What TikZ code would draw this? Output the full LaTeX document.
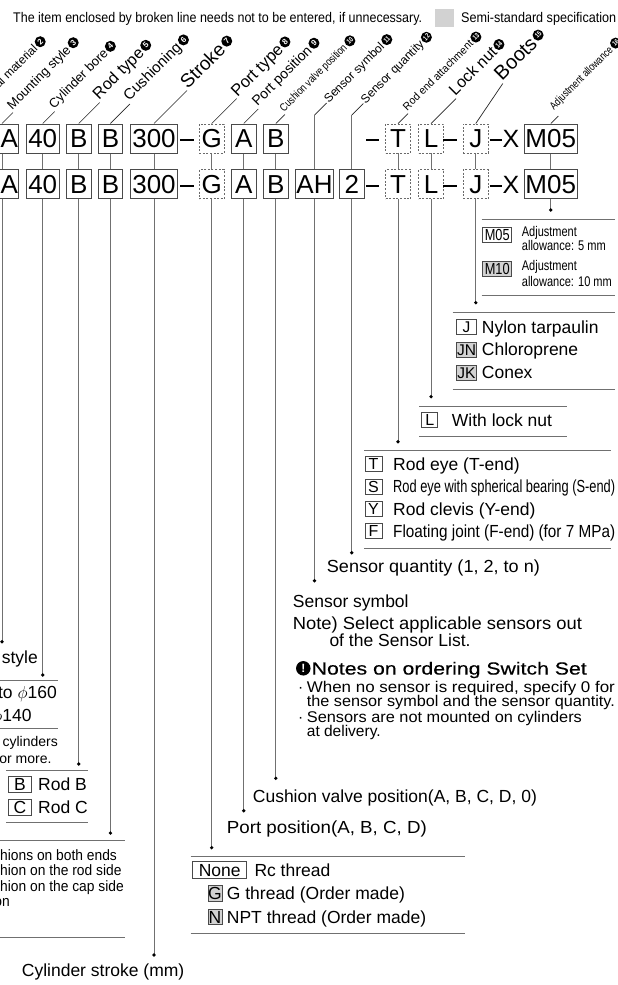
\documentclass[tikz,border=0pt]{standalone}
\usepackage{fontspec}
\setmainfont{Liberation Sans}
\newfontfamily\cnd[FakeStretch=0.8]{Liberation Sans}
\newfontfamily\cndc[FakeStretch=0.92]{Liberation Sans}
\newfontfamily\semib[FakeBold=0.3]{Liberation Sans}
\usepackage{graphicx}
\newcommand\fsz[1]{\fontsize{#1}{#1}\selectfont}
\newcommand\fitw[2]{\resizebox{#1pt}{\height}{#2}}
\definecolor{boxc}{HTML}{4A4A4A}
\definecolor{linec}{HTML}{707070}
\definecolor{dashc}{HTML}{6A6A6A}
\definecolor{semig}{HTML}{D2D2D2}
\tikzset{
  bigbox/.style={draw=boxc, line width=1pt, minimum height=29pt, inner sep=0pt, font=\fsz{26}, text height=18.6pt, text depth=0pt},
  dbox/.style={bigbox, draw=dashc, line width=0.9pt, dash pattern=on 2pt off 1.6pt},
  smbox/.style={draw=boxc, line width=0.9pt, minimum height=15pt, inner sep=0pt, font=\fsz{16}, text height=11.5pt, text depth=0pt},
  conn/.style={draw=linec, line width=1pt},
  lead/.style={draw=black!85, line width=0.7pt},
  rule/.style={draw=linec, line width=1pt},
  dsh/.style={draw=black, line width=1.8pt},
  dotn/.style={circle, fill=black, inner sep=0pt, minimum size=3.6pt},
  lbl/.style={rotate=45, anchor=base west, inner sep=0pt, inner xsep=1pt, text depth=0pt},
  num/.style={circle, fill=black, text=white, inner sep=0pt, minimum size=11pt, rotate=45, anchor=west, font=\bfseries\fsz{8}},
  numw/.style={num, font=\cnd\bfseries\fsz{7}},
  txt/.style={anchor=west, inner sep=0pt, font=\fsz{17.5}, text height=12.5pt, text depth=0pt},
  ntxt/.style={anchor=west, inner sep=0pt, font=\fsz{15.5}, text height=11.1pt, text depth=0pt},
  ctxt/.style={anchor=west, inner sep=0pt, font=\fsz{14}, text height=10pt, text depth=0pt},
  cush/.style={anchor=west, inner sep=0pt, font=\cndc\fsz{15}, text height=10.7pt, text depth=0pt},
  xch/.style={inner sep=0pt, font=\fsz{25}, text height=18pt, text depth=0pt},
}
\newcommand\twobox[5]{%
  \node[#4, minimum width=#3pt] (t#1) at (#2,138.5) {#5};
  \node[#4, minimum width=#3pt] (b#1) at (#2,184.25) {#5};
  \draw[conn] (t#1.south) -- (b#1.north);}
\begin{document}
\begin{tikzpicture}[x=1pt,y=-1pt]
\useasboundingbox (0,0) rectangle (618,985);
\fill[white] (0,0) rectangle (618,985);
\clip (0,0) rectangle (618,985);

% header
\node[anchor=west, inner sep=0pt, text height=10pt, text depth=0pt] (topnote) at (13,18) {\fitw{409}{\fsz{14}The item enclosed by broken line needs not to be entered, if unnecessary.}};
\node[fill=semig, minimum width=19pt, minimum height=18pt, inner sep=0pt] (semisq) at (444.5,18) {};
\node[anchor=west, inner sep=0pt, text height=10pt, text depth=0pt] (semitxt) at (461,18) {\fitw{155}{\fsz{14}Semi-standard specification}};

% code rows
\twobox{1}{2}{32}{bigbox}{LA}
\twobox{2}{42.75}{32.5}{bigbox}{40}
\twobox{3}{78.75}{25.5}{bigbox}{B}
\twobox{4}{110.45}{24.5}{bigbox}{B}
\twobox{5}{154}{47}{bigbox}{300}
\twobox{6}{211.7}{25}{dbox}{G}
\twobox{7}{243.75}{24.5}{bigbox}{A}
\twobox{8}{275.8}{25}{bigbox}{B}
\node[bigbox, minimum width=38pt] (b9) at (314.5,184.25) {AH};
\node[bigbox, minimum width=24.5pt] (b10) at (351.75,184.25) {2};
\twobox{11}{398}{25}{dbox}{T}
\twobox{12}{431}{25}{dbox}{L}
\twobox{13}{475.75}{25.5}{dbox}{J}
\twobox{14}{550.75}{52.5}{bigbox}{M05}

\foreach \yy in {140,185.75} {
  \draw[dsh] (180,\yy) -- (193.7,\yy);
  \draw[dsh] (366,\yy) -- (379,\yy);
  \draw[dsh] (443,\yy) -- (456.7,\yy);
  \draw[dsh] (489.5,\yy) -- (501.5,\yy);
}
\node[xch] (x1) at (511,138.5) {X};
\node[xch] (x2) at (511,184.25) {X};

% diagonal labels
\node[lbl, font=\fsz{12}, text height=8.6pt] (l0) at (-12,100) {Seal material};
\node[num] (n0) at (l0.east) {2};

\draw[lead] (t1.north) -- ++(11,-11) coordinate (e1);
\node[lbl, font=\fsz{13}, text height=9.3pt] (l1) at ([shift={(-1.5,-1.5)}]e1) {Mounting style};
\node[num] (n1) at (l1.east) {3};

\draw[lead] (t2.north) -- ++(12,-12) coordinate (e2);
\node[lbl, font=\fsz{13}, text height=9.3pt] (l2) at ([shift={(-1.5,-1.5)}]e2) {Cylinder bore};
\node[num] (n2) at (l2.east) {4};

\draw[lead] (t3.north) -- ++(21,-21) coordinate (e3);
\node[lbl, font=\fsz{16.2}, text height=11.6pt] (l3) at ([shift={(-1.5,-1.5)}]e3) {Rod type};
\node[num] (n3) at (l3.east) {5};

\draw[lead] (t4.north) -- ++(19.5,-19.5) coordinate (e4);
\node[lbl, font=\fsz{15}, text height=10.7pt] (l4) at ([shift={(-1.5,-1.5)}]e4) {Cushioning};
\node[num] (n4) at (l4.east) {6};

\draw[lead] (t5.north) -- ++(33,-33) coordinate (e5);
\node[lbl, font=\fsz{19}, text height=13.6pt] (l5) at (e5) {Stroke};
\node[num] (n5) at (l5.east) {7};

\draw[lead] (t6.north) -- ++(25,-25) coordinate (e6);
\node[lbl, font=\fsz{16.5}, text height=11.8pt] (l6) at (e6) {Port type};
\node[num] (n6) at (l6.east) {8};

\draw[lead] (t7.north) -- ++(14.5,-14.5) coordinate (e7);
\node[lbl, font=\fsz{14}, text height=10pt] (l7) at ([shift={(-1.5,-1.5)}]e7) {Port position};
\node[num] (n7) at (l7.east) {9};

\draw[lead] (t8.north) -- ++(9,-9) coordinate (e8);
\node[lbl, font=\fsz{11}, text height=7.9pt] (l8) at ([shift={(-1.5,-1.5)}]e8) {\fitw{90}{Cushion valve position}};
\node[numw] (n8) at (l8.east) {10};

\draw[conn] (b9.north) -- (b9.north |- 0,115) coordinate (v9);
\draw[lead] (v9) -- ++(12,-12) coordinate (e9);
\node[lbl, font=\fsz{12}, text height=8.6pt] (l9) at ([shift={(1.5,1.5)}]e9) {Sensor symbol};
\node[numw] (n9) at (l9.east) {11};

\draw[conn] (b10.north) -- (b10.north |- 0,115) coordinate (v10);
\draw[lead] (v10) -- ++(11.5,-11.5) coordinate (e10);
\node[lbl, font=\fsz{12}, text height=8.6pt] (l10) at ([shift={(1.5,1.5)}]e10) {Sensor quantity};
\node[numw] (n10) at (l10.east) {12};

\draw[lead] (t11.north) -- ++(10,-10) coordinate (e11);
\node[lbl, font=\fsz{11}, text height=7.9pt] (l11) at ([shift={(-1.5,-1.5)}]e11) {\fitw{94}{Rod end attachment}};
\node[numw] (n11) at (l11.east) {13};

\draw[lead] (t12.north) -- ++(25,-25) coordinate (e12);
\node[lbl, font=\fsz{16}, text height=11.5pt] (l12) at ([shift={(-1.5,-1.5)}]e12) {Lock nut};
\node[numw] (n12) at (l12.east) {14};

\draw[lead] (t13.north) -- ++(27,-40) coordinate (e13);
\node[lbl, font=\fsz{20}, text height=14.3pt] (l13) at ([shift={(-1.5,-1.5)}]e13) {Boots};
\node[numw] (n13) at (l13.east) {15};

\draw[lead] (t14.north) -- ++(7.5,-7.5) coordinate (e14);
\node[lbl, font=\fsz{11}, text height=7.9pt] (l14) at ([shift={(-5,-5)}]e14) {\fitw{84}{Adjustment allowance}};
\node[numw] (n14) at (l14.east) {16};

% descenders
\draw[conn] (b1.south) -- (b1.south |- 0,641.7) node[dotn] (d1) {};
\draw[conn] (b2.south) -- (b2.south |- 0,675) node[dotn] (d2) {};
\draw[conn] (b3.south) -- (b3.south |- 0,764) node[dotn] (d3) {};
\draw[conn] (b4.south) -- (b4.south |- 0,833) node[dotn] (d4) {};
\draw[conn] (b5.south) -- (b5.south |- 0,955) node[dotn] (d5) {};
\draw[conn] (b6.south) -- (b6.south |- 0,847.7) node[dotn] (d6) {};
\draw[conn] (b7.south) -- (b7.south |- 0,810.7) node[dotn] (d7) {};
\draw[conn] (b8.south) -- (b8.south |- 0,778.3) node[dotn] (d8) {};
\draw[conn] (b9.south) -- (b9.south |- 0,580.7) node[dotn] (d9) {};
\draw[conn] (b10.south) -- (b10.south |- 0,552.7) node[dotn] (d10) {};
\draw[conn] (b11.south) -- (b11.south |- 0,441.7) node[dotn] (d11) {};
\draw[conn] (b12.south) -- (b12.south |- 0,396.7) node[dotn] (d12) {};
\draw[conn] (b13.south) -- (b13.south |- 0,302.7) node[dotn] (d13) {};
\draw[conn] (b14.south) -- (b14.south |- 0,210) node[dotn] (d14) {};

% adjustment allowance block
\draw[rule] (481.7,219.3) -- (615,219.3);
\node[smbox, minimum width=29pt, font=\cnd\fsz{16}] (o14a) at (497.2,235) {M05};
\node[ctxt] (o14t1) at (521.7,231.7) {\fitw{55}{Adjustment}};
\node[ctxt] (o14t2) at (521.7,245) {\fitw{84}{allowance: 5 mm}};
\node[smbox, fill=semig, minimum width=29pt, font=\cnd\fsz{16}] (o14b) at (497.2,269) {M10};
\node[ctxt] (o14t3) at (521.7,265) {\fitw{55}{Adjustment}};
\node[ctxt] (o14t4) at (521.7,281.7) {\fitw{90}{allowance: 10 mm}};
\draw[rule] (481.7,295) -- (615,295);

% boots block
\draw[rule] (452.7,312.7) -- (615,312.7);
\node[smbox, minimum width=19.5pt, font=\fsz{15.5}, text height=11.1pt] (o13a) at (466.5,327) {J};
\node[txt] (o13t1) at (481.7,327) {Nylon tarpaulin};
\node[smbox, fill=semig, minimum width=19.5pt, font=\fsz{15.5}, text height=11.1pt] (o13b) at (466.5,349.7) {JN};
\node[txt] (o13t2) at (481.7,349.7) {Chloroprene};
\node[smbox, fill=semig, minimum width=19.5pt, font=\fsz{15.5}, text height=11.1pt] (o13c) at (466.5,372.5) {JK};
\node[txt] (o13t3) at (481.7,372.5) {Conex};
\draw[rule] (452.7,389.3) -- (615,389.3);

% lock nut block
\draw[rule] (419.3,406) -- (566.7,406);
\node[smbox, minimum width=16pt] (o12a) at (429.7,420) {L};
\node[txt] (o12t1) at (451.7,420) {With lock nut};
\draw[rule] (419.3,436) -- (566.7,436);

% rod end block
\draw[rule] (364,450.7) -- (611,450.7);
\node[smbox, minimum width=17pt] (o11a) at (373.5,464.2) {T};
\node[txt] (o11t1) at (393,464.2) {Rod eye (T-end)};
\node[smbox, minimum width=17pt] (o11b) at (373.5,486.7) {S};
\node[txt] (o11t2) at (393,486.7) {\fitw{222}{Rod eye with spherical bearing (S-end)}};
\node[smbox, minimum width=17pt] (o11c) at (373.5,509.2) {Y};
\node[txt] (o11t3) at (393,509.2) {Rod clevis (Y-end)};
\node[smbox, minimum width=17pt] (o11d) at (373.5,530.8) {F};
\node[txt] (o11t4) at (393,530.8) {\fitw{222}{Floating joint (F-end) (for 7 MPa)}};
\draw[rule] (364,548.3) -- (611,548.3);

% sensors
\node[txt] (sq) at (326.7,566.7) {\fitw{213}{Sensor quantity (1, 2, to n)}};
\node[txt] (ss) at (292.7,601.7) {Sensor symbol};
\node[txt] (nt1) at (292.7,623.3) {\fitw{289}{Note) Select applicable sensors out}};
\node[txt] (nt2) at (329.3,640) {of the Sensor List.};
\node[circle, fill=black, text=white, inner sep=0pt, minimum size=14.5pt, font=\bfseries\fsz{12}] (ex) at (303.3,668.3) {!};
\node[txt, font=\semib\fsz{17.5}] (nh) at (311.5,668.3) {\fitw{275}{Notes on ordering Switch Set}};
\node[ntxt] (bl1) at (298,686.7) {\makebox[8.7pt][l]{·}\fitw{308}{When no sensor is required, specify 0 for}};
\node[ntxt] (bl2) at (306.7,700.5) {\fitw{308}{the sensor symbol and the sensor quantity.}};
\node[ntxt] (bl3) at (298,716.7) {\makebox[8.7pt][l]{·}\fitw{275}{Sensors are not mounted on cylinders}};
\node[ntxt] (bl4) at (306.7,730.7) {at delivery.};

% cushion valve / port position
\node[txt] (cv) at (252.7,796.7) {Cushion valve position(A, B, C, D, 0)};
\node[txt] (pp) at (226.7,827.7) {\fitw{200}{Port position(A, B, C, D)}};

% port type block
\draw[rule] (190.7,856) -- (465,856);
\node[smbox, minimum width=54pt, minimum height=16.6pt, font=\fsz{17.5}, text height=12.5pt] (o6a) at (219.7,870) {None};
\node[txt] (o6t1) at (254.3,870) {Rc thread};
\node[smbox, fill=semig, minimum width=14pt, minimum height=15.3pt, font=\fsz{17.5}, text height=12.5pt] (o6b) at (215,893.3) {G};
\node[txt] (o6t2) at (226.7,893.3) {G thread (Order made)};
\node[smbox, fill=semig, minimum width=14pt, minimum height=15.3pt, font=\fsz{17.5}, text height=12.5pt] (o6c) at (215,917.2) {N};
\node[txt] (o6t3) at (226.7,917.3) {NPT thread (Order made)};
\draw[rule] (190.7,933.3) -- (465,933.3);

% stroke
\node[txt] (cs) at (21.7,970) {Cylinder stroke (mm)};

% cushioning block
\draw[rule] (0,840.7) -- (125,840.7);
\node[cush] (o4t1) at (-24.5,855) {Cushions on both ends};
\node[cush] (o4t2) at (-24.5,870.5) {Cushion on the rod side};
\node[cush] (o4t3) at (-24.5,886) {Cushion on the cap side};
\node[cush, anchor=east] (o4t4) at (10,901.5) {No cushion};
\draw[rule] (0,937.3) -- (125,937.3);

% rod type block
\draw[rule] (6,770) -- (88,770);
\node[smbox, minimum width=23.4pt, minimum height=16.7pt, font=\fsz{17.5}, text height=12.5pt] (o3a) at (20,784.35) {B};
\node[txt] (o3t1) at (38,784) {Rod B};
\node[smbox, minimum width=23.4pt, minimum height=16.7pt, font=\fsz{17.5}, text height=12.5pt] (o3b) at (20,807.35) {C};
\node[txt] (o3t2) at (38,807) {Rod C};
\draw[rule] (6,822.3) -- (88,822.3);

% cylinder bore block
\draw[rule] (0,680.7) -- (58,680.7);
\node[txt, anchor=east] (o2t1) at (57,692.7) {$\phi$40 to $\phi$160};
\node[txt, anchor=east] (o2t2) at (31.7,715) {$\phi$140};
\draw[rule] (0,728.3) -- (58,728.3);
\node[ctxt, anchor=east] (o2t3) at (58,741.7) {for cylinders};
\node[ctxt, anchor=east] (o2t4) at (51.7,758.3) {$\phi$50 or more.};

% mounting style
\node[txt, anchor=east] (o1t1) at (38,657) {Mounting style};
\end{tikzpicture}
\end{document}
